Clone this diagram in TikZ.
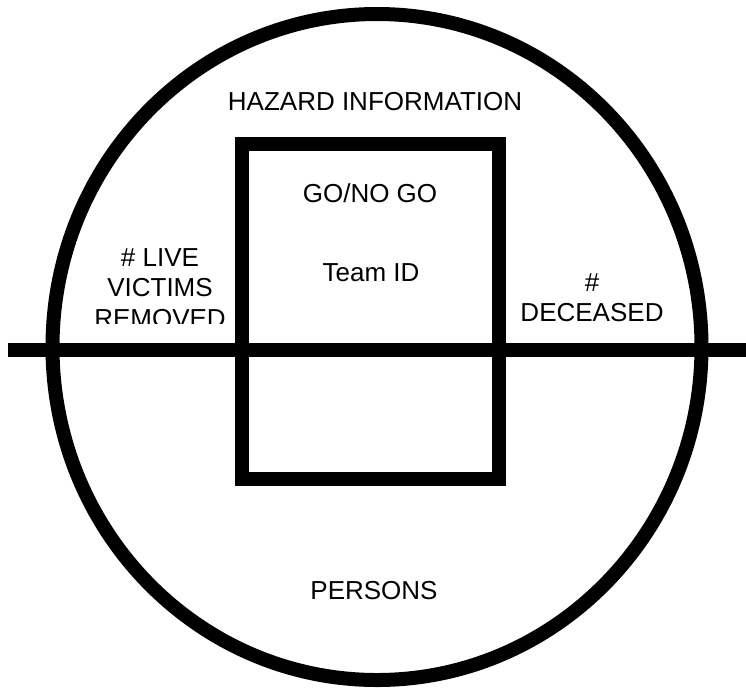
\documentclass[tikz,border=0pt]{standalone}
\usepackage{fontspec}
\setmainfont{Liberation Sans}
\usetikzlibrary{calc}

\begin{document}
\begin{tikzpicture}[x=0.02cm,y=-0.02cm,
    heavy/.style={line width=0.28cm},
    lbl/.style={inner sep=0pt,align=center,font={\fontsize{14.8}{17.3}\selectfont}}]
  \useasboundingbox (0,0) rectangle (746,687);
  % outer ring, inner box, divider
  \draw[heavy] (377,347) ellipse [x radius=324.5,y radius=333];
  \draw[heavy] (242,144) rectangle (499,479);
  \coordinate (divl) at (8,350);
  \coordinate (divr) at (746,350);
  \draw[heavy] (divl) -- (divr);
  \node[lbl,anchor=base] (hazard) at (375,110) {HAZARD INFORMATION};
  \node[lbl,anchor=base] (gonogo) at (370,202) {GO/NO GO};
  \node[lbl,anchor=base] (team) at (371,281) {Team ID};
  \node[lbl,anchor=base] (persons) at (374,599) {PERSONS};
  % live victims text is cut off above the divider
  \begin{scope}
    \clip (60,200) rectangle (236,323);
    \node[lbl,anchor=north] (live) at (160,248) {\# LIVE\\VICTIMS\\REMOVED};
  \end{scope}
  \node[lbl,anchor=north] (dead) at (592,273) {\#\\DECEASED};
\end{tikzpicture}
\end{document}
